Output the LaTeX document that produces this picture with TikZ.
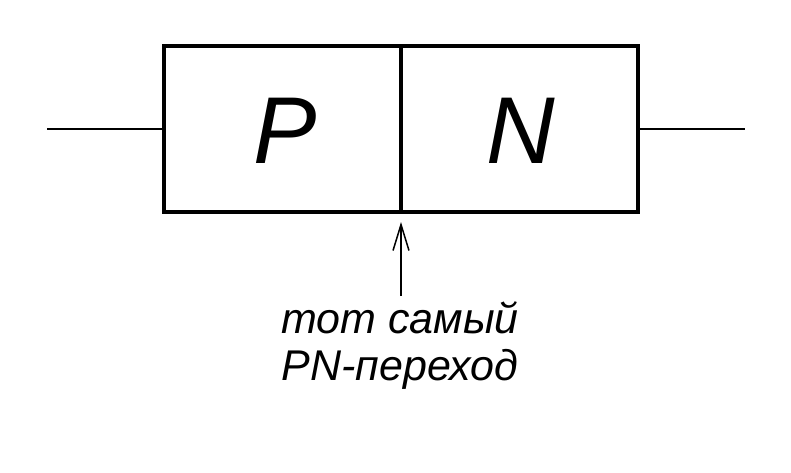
\documentclass[tikz,border=0pt]{standalone}
\usepackage{fontspec}
\setmainfont{Liberation Sans}
\usetikzlibrary{arrows.meta}
\begin{document}
\begin{tikzpicture}[x=1pt,y=-1pt,
  boxline/.style={line width=3.5pt},
  wire/.style={line width=1.5pt},
  big/.style={font=\itshape\fontsize{95}{95}\selectfont, inner sep=0pt},
  lbl/.style={font=\itshape\fontsize{43}{47}\selectfont, inner sep=0pt, anchor=base}]
\useasboundingbox (0,0) rectangle (791,472);
\fill[white] (0,0) rectangle (791,472);
\node[draw, boxline, minimum width=474pt, minimum height=166pt, inner sep=0pt] (box) at (401,129) {};
\coordinate (wl) at (47,129);
\coordinate (wr) at (745,129);
\draw[wire] (wl) -- (box.west);
\draw[wire] (box.east) -- (wr);
\draw[line width=4.5pt] (box.north) -- (box.south);
\node[big] (P) at (285,131) {P};
\node[big] (N) at (521,131) {N};
\node[lbl] (t1) at (400,333) {тот самый};
\node[lbl] (t2) at (400,380) {PN-переход};
\coordinate (tail) at (401,296);
\coordinate (tip) at (401,222);
\draw[wire, -{Straight Barb[length=26pt, width=16pt, line width=1.5pt]}] (tail) -- (tip);
\end{tikzpicture}
\end{document}
